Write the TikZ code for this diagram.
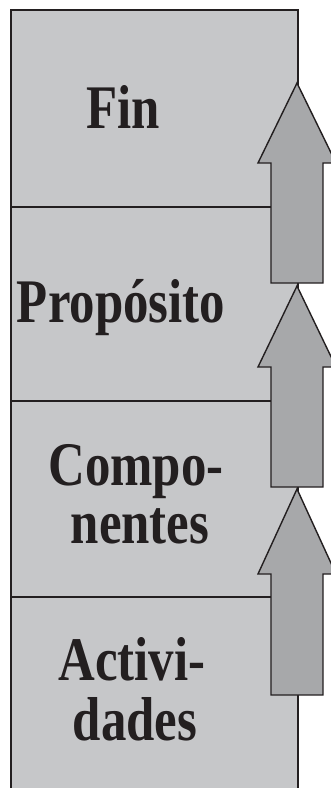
\documentclass[tikz,border=0pt]{standalone}
\usepackage{fontspec}
\setmainfont{Liberation Serif}
\definecolor{boxfill}{HTML}{C6C7C9}
\definecolor{arrowfill}{HTML}{A7A8AA}
\definecolor{inkc}{HTML}{231F20}
\tikzset{
  boxline/.style={draw=inkc, line width=1.8pt},
  label/.style={anchor=base, inner sep=0pt, text=inkc,
    font=\fontsize{62}{59}\selectfont\bfseries},
  uparrow/.style={draw=inkc, line width=1.4pt, fill=arrowfill, line join=miter},
}
\newcommand{\sq}[1]{\scalebox{0.82}[1]{#1}}
\begin{document}
\begin{tikzpicture}[x=1pt,y=-1pt]
\useasboundingbox (0,0) rectangle (331,788);
\clip (0,0) rectangle (331,788);
% main box
\fill[boxfill] (11,10) rectangle (298,800);
\coordinate (d1l) at (11,207); \coordinate (d1r) at (298,207);
\coordinate (d2l) at (11,401); \coordinate (d2r) at (298,401);
\coordinate (d3l) at (11,597); \coordinate (d3r) at (298,597);
\draw[boxline] (11,800) -- (11,10) -- (298,10) -- (298,800);
\draw[boxline] (d1l) -- (d1r);
\draw[boxline] (d2l) -- (d2r);
\draw[boxline] (d3l) -- (d3r);
% labels
\node[label] (fin) at (123,128) {\sq{Fin}};
\node[label] (prop) at (121,322) {\sq{Propósito}};
\node[label] (comp1) at (136,485) {\sq{Compo-}};
\node[label] (comp2) at (140,543) {\sq{nentes}};
\node[label] (act1) at (132,680) {\sq{Activi-}};
\node[label] (act2) at (135,740) {\sq{dades}};
% arrows
\draw[uparrow] (297,83) -- (336,163) -- (323,163) -- (323,283) -- (271,283) -- (271,163) -- (258,163) -- cycle;
\draw[uparrow] (297,286) -- (336,367) -- (323,367) -- (323,487) -- (271,487) -- (271,367) -- (258,367) -- cycle;
\draw[uparrow] (297,489) -- (336,574) -- (323,574) -- (323,695) -- (271,695) -- (271,574) -- (258,574) -- cycle;
\end{tikzpicture}
\end{document}
